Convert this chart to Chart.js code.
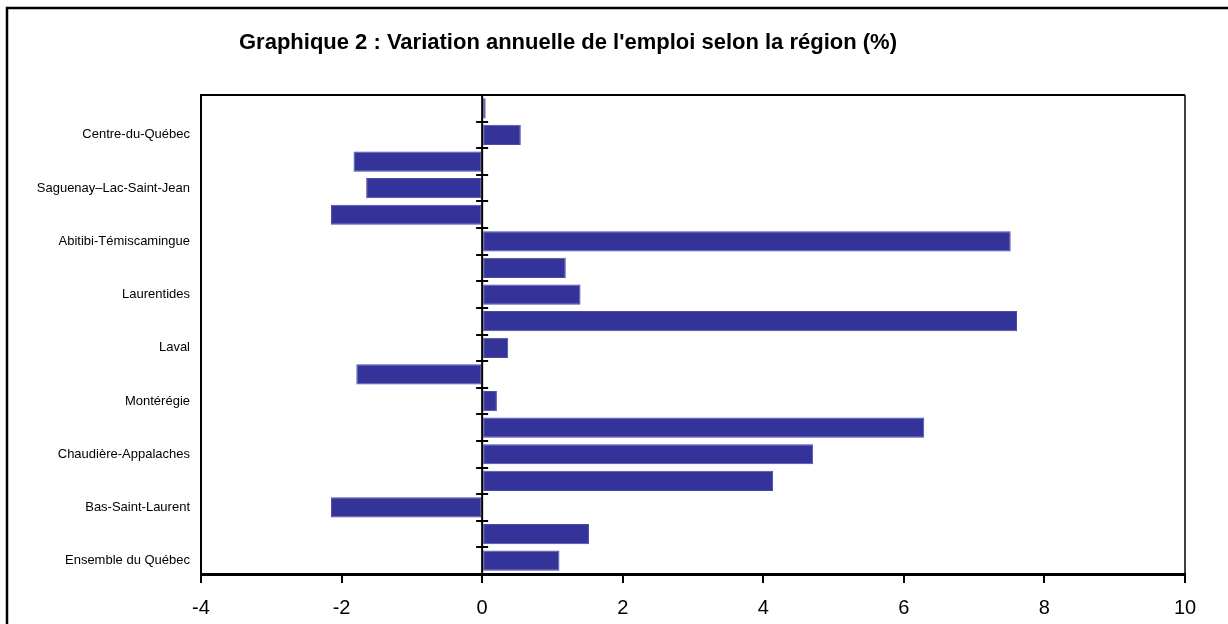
<!DOCTYPE html>
<html lang="fr">
<head>
<meta charset="utf-8">
<title>Variation annuelle de l'emploi selon la région</title>
<script src="https://cdn.jsdelivr.net/npm/chart.js@4.4.1/dist/chart.umd.min.js"></script>
<style>
  html, body { margin: 0; padding: 0; background: #fff; }
  #wrap { width: 1228px; height: 624px; position: relative; }
</style>
</head>
<body>
<div id="wrap"><canvas id="emploiChart" width="1228" height="624"></canvas></div>
<script>
// Données (de bas en haut)
const regions = [
  'Ensemble du Québec',
  'Gaspésie–Îles-de-la-Madeleine',
  'Bas-Saint-Laurent',
  'Capitale-Nationale',
  'Chaudière-Appalaches',
  'Estrie',
  'Montérégie',
  'Montréal',
  'Laval',
  'Lanaudière',
  'Laurentides',
  'Outaouais',
  'Abitibi-Témiscamingue',
  'Mauricie',
  'Saguenay–Lac-Saint-Jean',
  'Côte-Nord',
  'Centre-du-Québec',
  'Nord-du-Québec'
];
const variation = [1.1, 1.52, -2.15, 4.14, 4.71, 6.29, 0.21, -1.79, 0.37, 7.61,
                   1.40, 1.19, 7.52, -2.15, -1.65, -1.83, 0.55, 0.05];
const xTicks = [-4, -2, 0, 2, 4, 6, 8, 10];
const titre = "Graphique 2 : Variation annuelle de l'emploi selon la région (%)";

const police = "'Liberation Sans', Arial, Helvetica, sans-serif";

// Cadre extérieur, cadre du graphique, titre et axe du zéro
const decorPlugin = {
  id: 'decor',
  afterDraw(chart) {
    const ctx = chart.ctx;
    const area = chart.chartArea;
    const xs = chart.scales.x;
    const ys = chart.scales.y;
    ctx.save();
    ctx.strokeStyle = '#000';

    // cadre extérieur (gauche + haut)
    ctx.lineWidth = 2.5;
    ctx.beginPath();
    ctx.moveTo(7, 624);
    ctx.lineTo(7, 8);
    ctx.lineTo(1228, 8);
    ctx.stroke();

    // haut et droite du graphique
    ctx.lineWidth = 2;
    ctx.beginPath();
    ctx.moveTo(area.left, area.top);
    ctx.lineTo(area.right, area.top);
    ctx.stroke();
    ctx.lineWidth = 1.5;
    ctx.beginPath();
    ctx.moveTo(area.right, area.top);
    ctx.lineTo(area.right, area.bottom);
    ctx.stroke();

    // axe vertical au zéro avec graduations entre les catégories
    const x0 = xs.getPixelForValue(0);
    ctx.lineWidth = 2;
    ctx.beginPath();
    ctx.moveTo(x0, area.top);
    ctx.lineTo(x0, area.bottom);
    ctx.stroke();
    for (let i = 0; i <= regions.length; i++) {
      const y = Math.round(ys.getPixelForValue(i - 0.5));
      ctx.beginPath();
      ctx.moveTo(x0 - 6, y);
      ctx.lineTo(x0 + 6, y);
      ctx.stroke();
    }

    // titre
    ctx.fillStyle = '#000';
    ctx.font = 'bold 22px ' + police;
    ctx.textAlign = 'center';
    ctx.textBaseline = 'alphabetic';
    ctx.fillText(titre, 568, 49);
    ctx.restore();
  }
};

new Chart(document.getElementById('emploiChart'), {
  type: 'bar',
  data: {
    labels: regions,
    datasets: [{
      label: 'Variation (%)',
      data: variation,
      backgroundColor: '#333399',
      borderColor: '#4a4aa8',
      borderWidth: 1,
      borderSkipped: false,
      barPercentage: 0.76,
      categoryPercentage: 1
    }]
  },
  options: {
    indexAxis: 'y',
    responsive: false,
    animation: false,
    layout: { padding: { left: 7, top: 95, right: 43, bottom: 0 } },
    plugins: {
      legend: { display: false },
      title: { display: false },
      tooltip: { enabled: false }
    },
    scales: {
      x: {
        min: -4,
        max: 10,
        afterBuildTicks: (scale) => { scale.ticks = xTicks.map(v => ({ value: v })); },
        afterFit: (scale) => { scale.height = 50; },
        ticks: {
          color: '#000',
          font: { family: police, size: 20 },
          padding: 13,
          maxRotation: 0
        },
        grid: {
          drawOnChartArea: false,
          drawTicks: true,
          tickLength: 9,
          color: '#000',
          lineWidth: 2
        },
        border: { display: true, color: '#000', width: 3 }
      },
      y: {
        reverse: true,
        afterFit: (scale) => { scale.width = 194; },
        ticks: {
          autoSkip: false,
          color: '#000',
          font: { family: police, size: 13 },
          padding: 11,
          callback: (val, i) => (i % 2 === 0 ? regions[i] : '')
        },
        grid: { display: false, drawTicks: false },
        border: { display: true, color: '#000', width: 2 }
      }
    }
  },
  plugins: [decorPlugin]
});
</script>
</body>
</html>
